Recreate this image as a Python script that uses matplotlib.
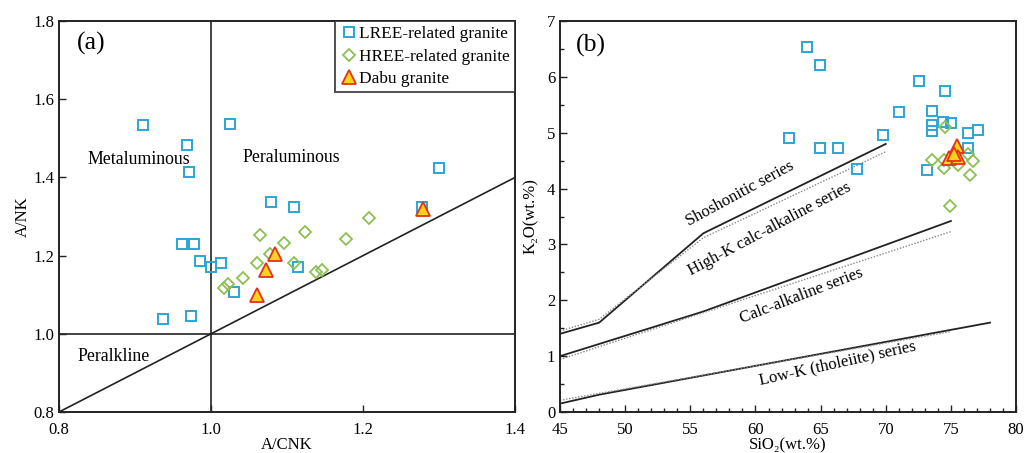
"""Granite discrimination diagrams: A/NK vs A/CNK and K2O vs SiO2."""

import matplotlib
matplotlib.use("Agg")
import matplotlib.pyplot as plt
from matplotlib.ticker import MultipleLocator

plt.rcParams["font.family"] = ["Liberation Serif", "DejaVu Serif"]

# ---- panel (a): A/CNK vs A/NK ----
lree_acnk = [0.911, 0.968, 0.971, 1.025, 0.962, 0.977, 0.986, 1.000, 1.013,
             1.030, 0.937, 0.974, 1.079, 1.109, 1.115, 1.300, 1.277]
lree_ank = [1.535, 1.484, 1.415, 1.537, 1.229, 1.229, 1.186, 1.172, 1.181,
            1.107, 1.038, 1.046, 1.338, 1.324, 1.172, 1.423, 1.325]
hree_acnk = [1.064, 1.077, 1.096, 1.124, 1.061, 1.109, 1.042, 1.022, 1.017,
             1.138, 1.146, 1.177, 1.208]
hree_ank = [1.252, 1.203, 1.233, 1.260, 1.180, 1.181, 1.142, 1.127, 1.116,
            1.158, 1.162, 1.243, 1.295]
dabu_acnk = [1.061, 1.073, 1.084, 1.279]
dabu_ank = [1.100, 1.162, 1.204, 1.318]

# ---- panel (b): SiO2 vs K2O ----
lree_sio2 = [63.96, 64.98, 62.55, 64.98, 66.34, 67.77, 69.81, 71.02, 72.58,
             74.55, 73.52, 73.57, 73.55, 74.37, 74.98, 76.34, 77.10, 76.34, 73.19]
lree_k2o = [6.53, 6.22, 4.91, 4.72, 4.72, 4.36, 4.96, 5.37, 5.92,
            5.75, 5.39, 5.14, 5.03, 5.19, 5.17, 5.00, 5.05, 4.72, 4.34]
hree_sio2 = [74.55, 73.52, 74.47, 74.47, 75.57, 76.72, 76.47, 74.93, 76.34]
hree_k2o = [5.10, 4.52, 4.52, 4.37, 4.42, 4.50, 4.24, 3.69, 4.62]
dabu_sio2 = [75.47, 74.85, 75.55, 75.20]
dabu_k2o = [4.76, 4.55, 4.57, 4.62]

# series boundaries (solid) and alternative boundaries (dotted)
sho_x, sho_y = [45, 48, 56, 70], [1.4, 1.6, 3.2, 4.8]
sho_dx, sho_dy = [45, 48, 56, 70], [1.45, 1.66, 3.12, 4.66]
hk_x, hk_y = [45, 56, 75], [1.0, 1.8, 3.42]
hk_dx, hk_dy = [45, 75], [0.94, 3.23]
lk_x, lk_y = [45, 48, 78], [0.15, 0.31, 1.6]
lk_dx, lk_dy = [45, 75], [0.21, 1.44]

sq_col = "#2aa6d6"
di_col = "#8cc152"
tri_face = "#fbd318"
tri_edge = "#e2321c"


def style_axes(ax):
    for s in ax.spines.values():
        s.set_linewidth(1.4)
        s.set_color("#222222")
    ax.tick_params(which="both", direction="in", labelsize=12, width=1.0,
                   top=False, right=False, color="#222222")
    ax.tick_params(which="major", length=5)
    ax.tick_params(which="minor", length=3)
    ax.tick_params(axis="x", pad=7)
    ax.xaxis.set_label_coords(0.5, -0.064)


fig = plt.figure(figsize=(10.35, 4.53), dpi=100)
ax1 = fig.add_axes([0.0570, 0.0905, 0.4406, 0.863])
ax2 = fig.add_axes([0.5411, 0.0905, 0.4406, 0.863])

# panel (a)
ax1.plot([1.0, 1.0], [0.8, 1.8], color="#222222", lw=1.2)
ax1.plot([0.8, 1.4], [1.0, 1.0], color="#222222", lw=1.2)
ax1.plot([0.8, 1.4], [0.8, 1.4], color="#222222", lw=1.2)
ax1.plot(lree_acnk, lree_ank, "s", ms=7, mfc="none", mec=sq_col, mew=1.4,
         label="LREE-related granite")
ax1.plot(hree_acnk, hree_ank, "D", ms=6.5, mfc="none", mec=di_col, mew=1.3,
         label="HREE-related granite")
ax1.plot(dabu_acnk, dabu_ank, "^", ms=10, mfc=tri_face, mec=tri_edge, mew=1.3,
         label="Dabu granite")
ax1.set_xlim(0.8, 1.4)
ax1.set_ylim(0.8, 1.8)
ax1.xaxis.set_major_locator(MultipleLocator(0.2))
ax1.yaxis.set_major_locator(MultipleLocator(0.2))
ax1.xaxis.set_major_formatter(lambda v, p: f"{v:.1f}")
ax1.yaxis.set_major_formatter(lambda v, p: f"{v:.1f}")
ax1.set_xlabel("A/CNK", fontsize=12)
ax1.set_ylabel("A/NK", fontsize=12, labelpad=2)
ax1.text(0.843, 1.742, "(a)", fontsize=18.5, ha="center", va="center")
ax1.text(0.905, 1.447, "Metaluminous", fontsize=12.8, ha="center", va="center")
ax1.text(1.106, 1.450, "Peraluminous", fontsize=12.8, ha="center", va="center")
ax1.text(0.872, 0.942, "Peralkline", fontsize=12.8, ha="center", va="center")
leg = ax1.legend(loc="upper right", fontsize=12.4, frameon=True, fancybox=False,
                 borderaxespad=0, handletextpad=0.1, handlelength=1.0,
                 labelspacing=0.36, borderpad=0.3)
leg.get_frame().set_edgecolor("#222222")
leg.get_frame().set_linewidth(1.4)
style_axes(ax1)

# panel (b)
for xs, ys in [(sho_x, sho_y), (hk_x, hk_y), (lk_x, lk_y)]:
    ax2.plot(xs, ys, color="#222222", lw=1.3)
for xs, ys in [(sho_dx, sho_dy), (hk_dx, hk_dy), (lk_dx, lk_dy)]:
    ax2.plot(xs, ys, color="#888888", lw=1.0, ls=(0, (1, 1.2)))
ax2.plot(lree_sio2, lree_k2o, "s", ms=7, mfc="none", mec=sq_col, mew=1.4)
ax2.plot(hree_sio2, hree_k2o, "D", ms=6.5, mfc="none", mec=di_col, mew=1.3)
ax2.plot(dabu_sio2, dabu_k2o, "^", ms=10, mfc=tri_face, mec=tri_edge, mew=1.3)
ax2.set_xlim(45, 80)
ax2.set_ylim(0, 7)
ax2.xaxis.set_major_locator(MultipleLocator(5))
ax2.xaxis.set_minor_locator(MultipleLocator(1))
ax2.yaxis.set_major_locator(MultipleLocator(1))
ax2.yaxis.set_minor_locator(MultipleLocator(0.5))
ax2.set_xlabel("SiO\u2082(wt.%)", fontsize=12)
ax2.set_ylabel("K\u2082O(wt.%)", fontsize=12, labelpad=6)
ax2.text(47.4, 6.57, "(b)", fontsize=18.5, ha="center", va="center")
ax2.text(58.8, 3.91, "Shoshonitic series", fontsize=12, rotation=28.5,
         ha="center", va="center", rotation_mode="anchor")
ax2.text(61.07, 3.27, "High-K calc-alkaline series", fontsize=12, rotation=28,
         ha="center", va="center", rotation_mode="anchor")
ax2.text(63.55, 2.08, "Calc-alkaline series", fontsize=12, rotation=21,
         ha="center", va="center", rotation_mode="anchor")
ax2.text(66.3, 0.876, "Low-K (tholeiite) series", fontsize=12, rotation=12.5,
         ha="center", va="center", rotation_mode="anchor")
style_axes(ax2)

fig.savefig("out.png", dpi=100)
plt.close(fig)
